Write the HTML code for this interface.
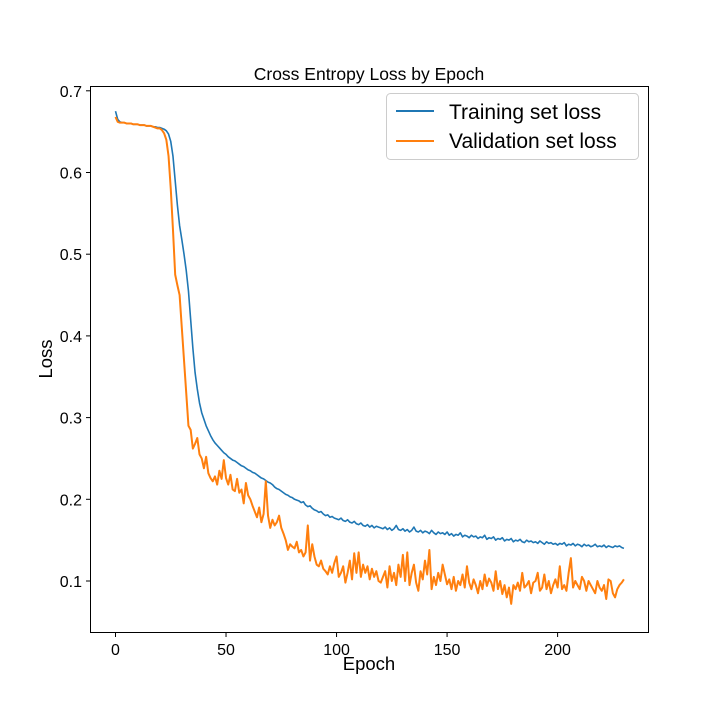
<!DOCTYPE html>
<html><head><meta charset="utf-8"><style>
body{margin:0;background:#fff;}
svg text{font-family:"Liberation Sans","DejaVu Sans",sans-serif;fill:#000;}
</style></head><body>
<svg id="chart" width="720" height="720" xmlns="http://www.w3.org/2000/svg">
<rect width="720" height="720" fill="#fff"/>
<text x="369" y="80" font-size="17.5" text-anchor="middle">Cross Entropy Loss by Epoch</text>
<g id="series"></g>
<rect x="90.5" y="86.5" width="558" height="546" fill="none" stroke="#000" stroke-width="1"/>
<g id="ticks"></g>
<text x="369" y="670" font-size="18.5" text-anchor="middle">Epoch</text>
<text x="52" y="359" font-size="18.5" text-anchor="middle" transform="rotate(-90 52 359)">Loss</text>
<g>
<rect x="386.5" y="93.5" width="252" height="66" rx="4" fill="#fff" stroke="#ccc"/>
<line x1="396" y1="111" x2="434" y2="111" stroke="#1f77b4" stroke-width="2"/>
<text x="449" y="119" font-size="21">Training set loss</text>
<line x1="396" y1="141" x2="434" y2="141" stroke="#ff7f0e" stroke-width="2"/>
<text x="449" y="148" font-size="21">Validation set loss</text>
</g>
</svg>
<script>
const xTicks=[0,50,100,150,200];
const yTicks=[0.1,0.2,0.3,0.4,0.5,0.6,0.7];
const trainLoss=[.675,.665,.662,.661,.661,.660,.660,.660,.659,.659,
.659,.658,.658,.658,.657,.657,.657,.656,.656,.655,
.655,.654,.653,.651,.647,.638,.620,.590,.560,.535,
.518,.500,.480,.455,.420,.385,.355,.335,.318,.306,
.298,.290,.284,.278,.273,.269,.266,.263,.260,.257,
.255,.252,.250,.248,.247,.245,.243,.241,.240,.238,
.236,.235,.233,.232,.230,.228,.226,.225,.223,.221,
.220,.218,.215,.213,.212,.210,.208,.206,.205,.203,
.202,.200,.199,.198,.196,.197,.193,.191,.192,.189,
.187,.186,.184,.185,.182,.180,.181,.178,.179,.177,
.176,.175,.177,.174,.173,.175,.172,.171,.173,.170,
.169,.171,.168,.167,.169,.166,.168,.165,.167,.166,
.165,.164,.166,.163,.165,.162,.164,.168,.163,.162,
.164,.161,.163,.160,.162,.166,.161,.160,.162,.159,
.161,.160,.158,.162,.159,.157,.160,.158,.159,.157,
.160,.156,.158,.155,.157,.156,.159,.154,.156,.155,
.153,.156,.154,.155,.152,.154,.153,.156,.151,.153,
.152,.154,.150,.152,.151,.153,.149,.151,.150,.152,
.148,.150,.149,.151,.148,.147,.150,.148,.149,.147,
.148,.146,.149,.147,.145,.148,.146,.147,.145,.146,
.144,.146,.145,.147,.143,.145,.144,.146,.143,.145,
.144,.142,.145,.143,.144,.142,.143,.145,.142,.143,
.142,.144,.141,.143,.142,.141,.143,.142,.143,.141,
.140];
const valLoss=[.668,.662,.661,.661,.661,.660,.660,.660,.659,.659,
.659,.658,.658,.658,.657,.657,.657,.656,.655,.654,
.654,.652,.648,.640,.620,.580,.530,.475,.462,.450,
.410,.370,.330,.290,.285,.262,.268,.275,.255,.250,
.238,.252,.232,.226,.222,.228,.218,.235,.225,.248,
.226,.218,.230,.212,.210,.225,.208,.212,.195,.220,
.205,.200,.192,.185,.178,.190,.172,.182,.222,.180,
.165,.175,.168,.172,.180,.165,.158,.150,.138,.145,
.142,.140,.148,.135,.138,.130,.135,.168,.125,.145,
.130,.120,.118,.125,.115,.112,.108,.118,.110,.122,
.130,.105,.110,.118,.098,.110,.125,.102,.134,.110,
.135,.105,.120,.110,.118,.102,.115,.105,.112,.100,
.098,.105,.112,.092,.118,.100,.110,.095,.120,.105,
.132,.100,.135,.095,.110,.120,.098,.088,.112,.102,
.125,.108,.138,.090,.105,.095,.110,.100,.120,.108,
.096,.102,.090,.105,.088,.100,.095,.108,.092,.118,
.098,.090,.102,.095,.085,.100,.090,.108,.094,.103,
.098,.088,.112,.090,.100,.084,.095,.080,.092,.072,
.095,.090,.098,.088,.110,.092,.095,.100,.085,.098,
.100,.110,.088,.092,.108,.090,.100,.085,.095,.102,
.092,.118,.090,.095,.088,.110,.128,.092,.100,.095,
.090,.105,.100,.088,.100,.095,.090,.085,.100,.092,
.088,.095,.078,.102,.100,.085,.080,.090,.095,.098,
.102];
const NS="http://www.w3.org/2000/svg";
function xS(e){return 115.5+e*2.2105;}
function yS(v){return 581-(v-0.1)*817;}
const ticks=document.getElementById('ticks');
const series=document.getElementById('series');
function mk(tag,attrs,parent){const el=document.createElementNS(NS,tag);for(const k in attrs)el.setAttribute(k,attrs[k]);parent.appendChild(el);return el;}
xTicks.forEach(t=>{
  const x=xS(t);
  const l=mk('line',{x1:x,x2:x,y1:632.5,y2:637,stroke:'#000'},ticks);
  
  
  const tx=mk('text',{x:x,y:655,'font-size':16,'text-anchor':'middle'},ticks);
  tx.textContent=String(t);
  
  
});
yTicks.forEach(t=>{
  const y=yS(t);
  const l=mk('line',{x1:86,x2:90.5,y1:y,y2:y,stroke:'#000'},ticks);
  
  
  const tx=mk('text',{x:82,y:y+6,'font-size':16,'text-anchor':'end'},ticks);
  tx.textContent=t.toFixed(1);
  
  
});
function line(data,color,name){
  const d=data.map((v,i)=>(i?'L':'M')+xS(i).toFixed(2)+','+yS(v).toFixed(2)).join('');
  const p=mk('path',{d:d,fill:'none',stroke:color,'stroke-width':name==='validation-loss-line'?2:1.6,'stroke-linejoin':'round'},series);
  
  
}
line(trainLoss,'#1f77b4','training-loss-line');
line(valLoss,'#ff7f0e','validation-loss-line');
</script>
</body></html>
